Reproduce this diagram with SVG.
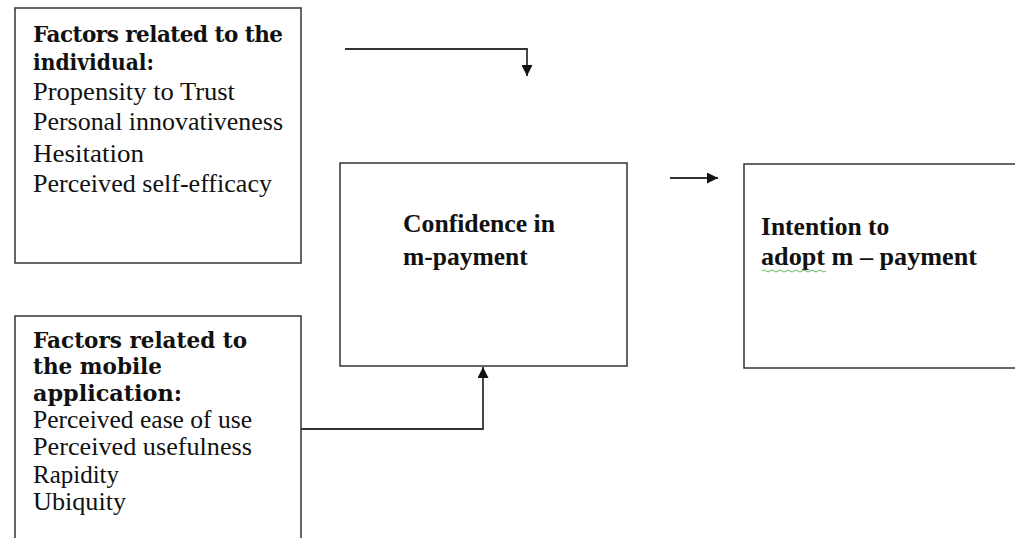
<svg xmlns="http://www.w3.org/2000/svg" width="1015" height="538" viewBox="0 0 1015 538">
<style>
.box{fill:#fff;stroke:#333;stroke-width:1.5}
.lt{font-family:"Liberation Serif","Times New Roman",serif;font-size:25px;fill:#111}
.lb{font-family:"DejaVu Serif","Liberation Serif",serif;font-size:21.5px;font-weight:bold;fill:#111}
.tb{font-family:"Liberation Serif","Times New Roman",serif;font-size:25.5px;font-weight:bold;fill:#111}
.conn{fill:none;stroke:#333;stroke-width:1.8}
</style>
<defs>
<marker id="ah" viewBox="0 0 12 12" refX="12" refY="6" markerWidth="12" markerHeight="11" markerUnits="userSpaceOnUse" orient="auto">
<path d="M0,0 L12,6 L0,12 Z" fill="#111"/>
</marker>
</defs>
<rect width="1015" height="538" fill="#fff"/>
<g id="individual">
<rect class="box" x="15" y="8" width="286" height="255"/>
<text class="lb" x="33" y="42" textLength="250" lengthAdjust="spacing">Factors related to the</text>
<text class="lb" x="33" y="70" textLength="121" lengthAdjust="spacingAndGlyphs">individual:</text>
<text class="lt" x="33" y="100" textLength="202" lengthAdjust="spacingAndGlyphs">Propensity to Trust</text>
<text class="lt" x="33" y="130" textLength="250" lengthAdjust="spacingAndGlyphs">Personal innovativeness</text>
<text class="lt" x="33" y="162" textLength="111" lengthAdjust="spacingAndGlyphs">Hesitation</text>
<text class="lt" x="33" y="192" textLength="239" lengthAdjust="spacingAndGlyphs">Perceived self-efficacy</text>
</g>
<g id="mobile">
<rect class="box" x="15" y="316" width="286" height="240"/>
<text class="lb" x="33" y="348" textLength="214" lengthAdjust="spacingAndGlyphs">Factors related to</text>
<text class="lb" x="33" y="374" textLength="129" lengthAdjust="spacingAndGlyphs">the mobile</text>
<text class="lb" x="33" y="401" textLength="149" lengthAdjust="spacingAndGlyphs">application:</text>
<text class="lt" x="33" y="428" textLength="219" lengthAdjust="spacingAndGlyphs">Perceived ease of use</text>
<text class="lt" x="33" y="455" textLength="219" lengthAdjust="spacingAndGlyphs">Perceived usefulness</text>
<text class="lt" x="33" y="483" textLength="86" lengthAdjust="spacingAndGlyphs">Rapidity</text>
<text class="lt" x="33" y="510" textLength="93" lengthAdjust="spacingAndGlyphs">Ubiquity</text>
</g>
<g id="confidence">
<rect class="box" x="340" y="163" width="287" height="203"/>
<text class="tb" x="403" y="232" textLength="152" lengthAdjust="spacingAndGlyphs">Confidence in</text>
<text class="tb" x="403" y="265">m-payment</text>
</g>
<g id="intention">
<rect class="box" x="744" y="164" width="290" height="204"/>
<text class="tb" x="761" y="235">Intention to</text>
<text class="tb" x="761" y="265" textLength="216" lengthAdjust="spacingAndGlyphs">adopt m – payment</text>
<path d="M762,271 q2,-2 4,0 t4,0 t4,0 t4,0 t4,0 t4,0 t4,0 t4,0 t4,0 t4,0 t4,0 t4,0 t4,0 t4,0 t4,0 t4,0" fill="none" stroke="#5cb85c" stroke-width="1"/>
</g>
<g id="connectors">
<path class="conn" d="M345,49 H527 V76" marker-end="url(#ah)"/>
<path class="conn" d="M670,178 H718" marker-end="url(#ah)"/>
<path class="conn" d="M301,429 H483 V367" marker-end="url(#ah)"/>
</g>
</svg>
